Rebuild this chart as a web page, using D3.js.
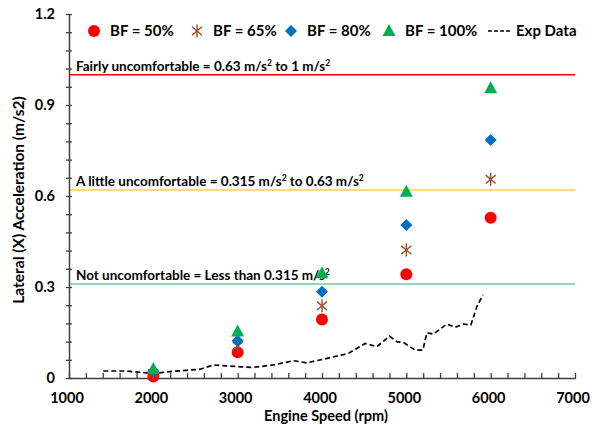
<!DOCTYPE html>
<html><head><meta charset="utf-8">
<script src="https://cdn.jsdelivr.net/npm/d3@7"></script>
<style>body{margin:0;background:#fff}svg{display:block}text{font-family:Lato,"Open Sans",sans-serif;font-weight:bold;fill:#000}</style>
</head><body><svg id="c" width="592" height="425"></svg>
<script>
const speeds = [2000, 3000, 4000, 5000, 6000];
const bf50 = [0.005, 0.085, 0.193, 0.342, 0.528];
const bf65 = [0.015, 0.105, 0.238, 0.422, 0.655];
const bf80 = [0.022, 0.123, 0.284, 0.504, 0.785];
const bf100 = [0.030, 0.153, 0.345, 0.614, 0.955];
const expRpm = [1407,1684,2000,2198,2554,2712,2870,3029,3186,3424,3661,3820,4017,4313,4511,4650,4800,4887,4974,5105,5196,5243,5322,5480,5579,5677,5765,5836,5907];
const expAcc = [0.023,0.023,0.015,0.021,0.029,0.043,0.040,0.037,0.035,0.043,0.057,0.050,0.062,0.081,0.114,0.103,0.138,0.120,0.116,0.092,0.092,0.149,0.145,0.178,0.167,0.178,0.175,0.235,0.274];
const xTicks = [1000,2000,3000,4000,5000,6000,7000];
const yTicks = [0,0.3,0.6,0.9,1.2];
const yTickLabels = ["0","0.3","0.6","0.9","1.2"];
const levels = [1.0, 0.62, 0.31];
const levelLabels = ["Fairly uncomfortable = 0.63 m/s", "A little uncomfortable = 0.315 m/s", "Not uncomfortable = Less than 0.315 m/s"];
const levelLabelTails = [[" to 1 m/s", true], [" to 0.63 m/s", true], ["", false]];
const legendNames = ["BF = 50%", "BF = 65%", "BF = 80%", "BF = 100%", "Exp Data"];

const svg = d3.select("#c");
const x = d3.scaleLinear().domain([1000,7000]).range([69,575]);
const y = d3.scaleLinear().domain([0,1.2]).range([378,14]);

// level lines
const lvlColors = ["#FF0000","#FFD34E","#6DCC96"];
levels.forEach((v,i)=>{
  svg.append("line").attr("x1",x(1000)).attr("x2",x(7000)).attr("y1",y(v)).attr("y2",y(v))
    .attr("stroke",lvlColors[i]).attr("stroke-width",1.5);
  const t = svg.append("text").attr("x",76).attr("y",y(v)-4).attr("font-size",13.5);
  t.append("tspan").text(levelLabels[i]);
  t.append("tspan").text("2").attr("font-size",8.5).attr("dy",-5);
  if(levelLabelTails[i][1]){
    t.append("tspan").text(levelLabelTails[i][0]).attr("dy",5);
    t.append("tspan").text("2").attr("font-size",8.5).attr("dy",-5);
  }
});

// axes
const xAxis = d3.axisBottom(x).tickValues(d3.range(1000,7001,200)).tickSize(0).tickFormat("");
const gx = svg.append("g").attr("transform","translate(0,378)").call(xAxis);
gx.select(".domain").attr("stroke","#404040").attr("stroke-width",1.5);
gx.selectAll(".tick line").attr("y1",-5).attr("y2",1).attr("stroke","#404040").attr("stroke-width",1.3);
xTicks.forEach(v=>{
  svg.append("text").attr("x",x(v)-2).attr("y",403).attr("text-anchor","middle").attr("font-size",14.5).text(v);
});
const yAxis = d3.axisLeft(y).tickValues(d3.range(0,1.2001,0.06)).tickSize(0).tickFormat("");
const gy = svg.append("g").attr("transform","translate(69,0)").call(yAxis);
gy.select(".domain").attr("stroke","#404040").attr("stroke-width",1.5);
gy.selectAll(".tick line").attr("x1",-3).attr("x2",3).attr("stroke","#404040").attr("stroke-width",1.3);
yTicks.forEach((v,i)=>{
  svg.append("text").attr("x",55).attr("y",y(v)+5).attr("text-anchor","end").attr("font-size",14.5).text(yTickLabels[i]);
});
svg.append("text").attr("transform","translate(24,200) rotate(-90)").attr("text-anchor","middle").attr("font-size",15.5).text("Lateral (X) Acceleration (m/s2)");
svg.append("text").attr("x",326).attr("y",421).attr("text-anchor","middle").attr("font-size",14.5).text("Engine Speed (rpm)");

// exp line
const line = d3.line().x((d,i)=>x(expRpm[i])).y(d=>y(d)).curve(d3.curveLinear);
svg.append("path").datum(expAcc).attr("d",line).attr("fill","none").attr("stroke","#000")
  .attr("stroke-width",1.7).attr("stroke-dasharray","5,3");

// markers
const star = (g,cx,cy)=>{
  const r=6.5;
  [90,40,140].forEach(a=>{
    const rad=a*Math.PI/180;
    g.append("line").attr("x1",cx-r*Math.cos(rad)).attr("y1",cy-r*Math.sin(rad))
     .attr("x2",cx+r*Math.cos(rad)).attr("y2",cy+r*Math.sin(rad)).attr("stroke","#9C4F22").attr("stroke-width",1.4);
  });
};
const drawCircle=(g,cx,cy)=>g.append("circle").attr("cx",cx).attr("cy",cy).attr("r",6).attr("fill","#FF0000");
const drawDiamond=(g,cx,cy)=>g.append("path").attr("d",`M${cx},${cy-6}L${cx+6},${cy}L${cx},${cy+6}L${cx-6},${cy}Z`).attr("fill","#0070C0");
const drawTri=(g,cx,cy)=>g.append("path").attr("d",`M${cx},${cy-7}L${cx+6.5},${cy+5}L${cx-6.5},${cy+5}Z`).attr("fill","#00B050");
const gm = svg.append("g");
const seriesList=[[bf50,drawCircle],[bf65,star],[bf80,drawDiamond],[bf100,drawTri]];
seriesList.forEach(([vals,fn])=>vals.forEach((v,i)=>fn(gm,x(speeds[i]),y(v))));

// legend
const lg = svg.append("g");
const lx=[94,197,291,389];
seriesList.forEach(([vals,fn],i)=>{
  fn(lg,lx[i],31);
  lg.append("text").attr("x",lx[i]+16).attr("y",36).attr("font-size",15).text(legendNames[i]);
});
lg.append("line").attr("x1",488).attr("x2",510).attr("y1",31).attr("y2",31).attr("stroke","#000").attr("stroke-width",1.7).attr("stroke-dasharray","4,2");
lg.append("text").attr("x",516).attr("y",36).attr("font-size",15).text(legendNames[4]);
</script></body></html>
